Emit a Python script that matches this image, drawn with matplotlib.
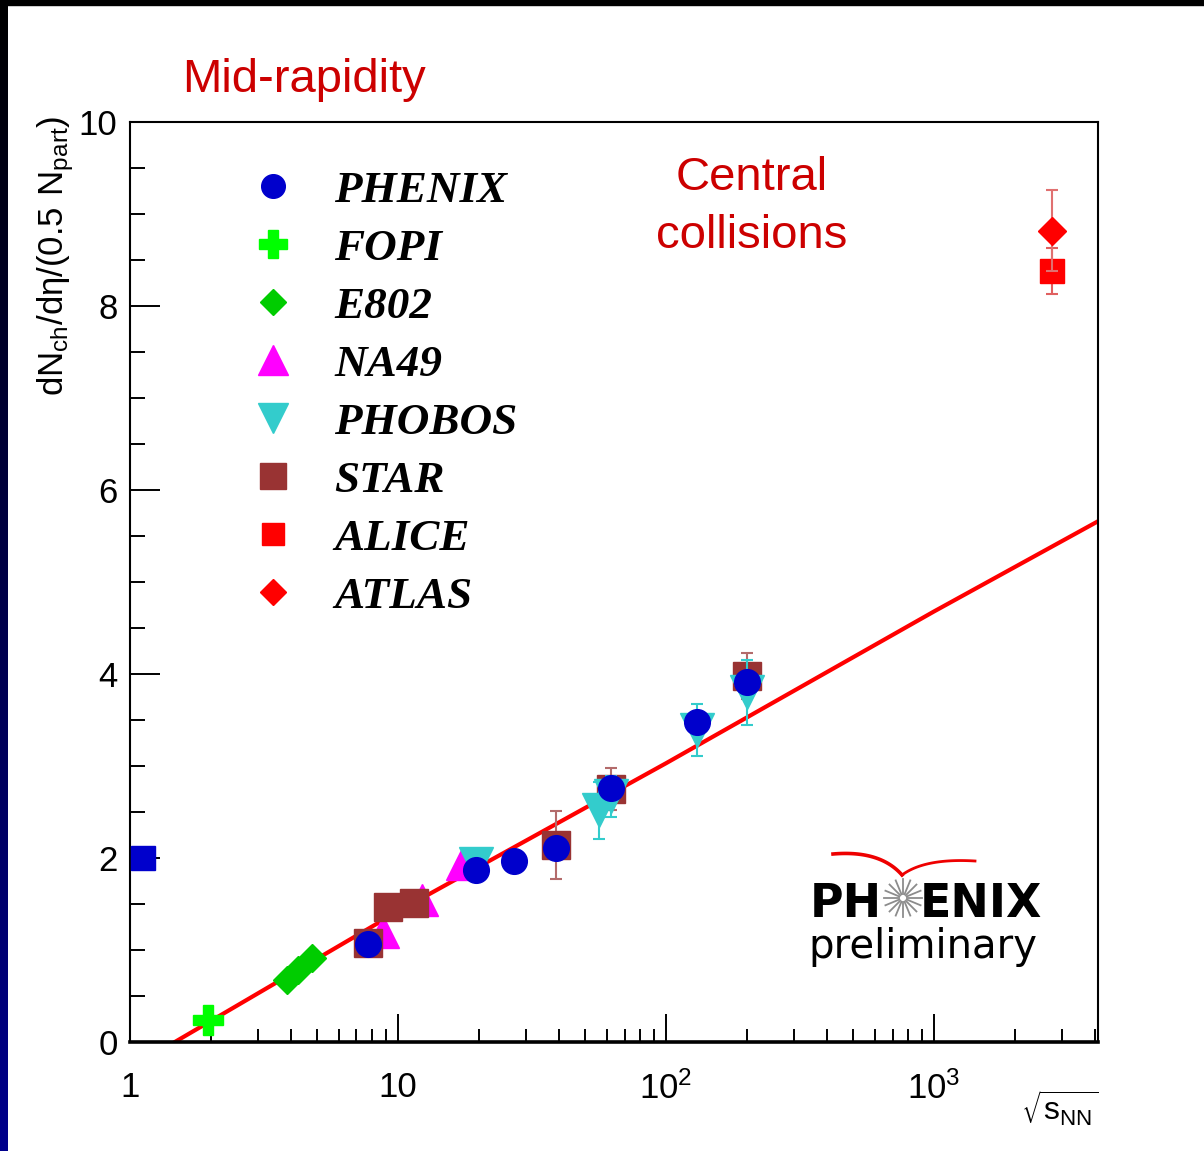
import numpy as np
import matplotlib
from matplotlib import pyplot as plt
from matplotlib.patches import Rectangle
from matplotlib.lines import Line2D

matplotlib.use('Agg')
plt.rcParams['font.family'] = ['Liberation Sans', 'DejaVu Sans']

# sqrt(s_NN) in GeV vs dNch/deta / (0.5 Npart), central collisions
phenix_x = [7.7, 19.6, 27, 39, 62.4, 130, 200]
phenix_y = [1.07, 1.87, 1.97, 2.11, 2.76, 3.48, 3.91]

fopi_x = [1.95]
fopi_y = [0.24]

e802_x = [3.85, 4.25, 4.77]
e802_y = [0.67, 0.78, 0.91]

na49_x = [8.8, 12.3, 17.3]
na49_y = [1.20, 1.54, 1.93]

phobos_x = [19.6, 56, 62.4, 130, 200]
phobos_y = [1.93, 2.52, 2.67, 3.39, 3.80]
phobos_err = [0.0, 0.31, 0.22, 0.28, 0.35]

star_x = [7.7, 9.2, 11.5, 39, 62.4, 200]
star_y = [1.08, 1.47, 1.51, 2.14, 2.75, 3.98]
star_err = [0.0, 0.0, 0.0, 0.37, 0.23, 0.25]

alice_x = [2760]
alice_y = [8.38]
alice_err = [0.25]

atlas_x = [2760]
atlas_y = [8.82]
atlas_err = [0.44]

# log fit through the data
fit_x = [1.47, 10, 100, 1000, 4090]
fit_y = [0.0, 1.42, 3.03, 4.68, 5.66]

# blue marker sitting on the y axis at 2
bullet_x = [1.118]
bullet_y = [2.0]

W, H = 1204, 1151
def fx(px):
    return px / W
def fy(py):
    return 1 - py / H

fig = plt.figure(figsize=(W / 100, H / 100), dpi=100)
fig.patch.set_facecolor('white')

# slide frame: black strip on top, dark gradient strip on the left
fig.add_artist(Rectangle((0, fy(5)), 1, 5 / H, transform=fig.transFigure,
                         color='black', zorder=10))
bar = fig.add_axes([0, 0, 8 / W, 1])
grad = np.zeros((256, 1, 3))
grad[:, 0, 2] = np.linspace(0.0, 0.55, 256)
bar.imshow(grad, aspect='auto')
bar.axis('off')

ax = fig.add_axes([fx(130), fy(1042), (1098 - 130) / W, (1042 - 122) / H])
ax.set_xscale('log')
ax.set_xlim(1, 4090)
ax.set_ylim(0, 10)

ax.plot(fit_x, fit_y, color='#ff0000', lw=3, zorder=2)

def series(x, y, marker, ms, color, z, err=None, ecolor=None):
    if err is not None:
        ax.errorbar(x, y, yerr=err, fmt='none', ecolor=ecolor, elinewidth=1.5,
                    capsize=4.5, capthick=1.5, zorder=z)
    line, = ax.plot(x, y, linestyle='none', marker=marker, ms=ms,
                    color=color, mec=color, zorder=z + 0.5)
    return line

h_fopi = series(fopi_x, fopi_y, 'P', 22, '#00ff00', 3)
h_e802 = series(e802_x, e802_y, 'D', 14, '#00cc00', 4)
h_na49 = series(na49_x, na49_y, '^', 23, '#ff00ff', 5)
h_star = series(star_x, star_y, 's', 20, '#993333', 6, star_err, '#b36b6b')
h_phobos = series(phobos_x, phobos_y, 'v', 24, '#33cccc', 7, phobos_err, '#33cccc')
h_phenix = series(phenix_x, phenix_y, 'o', 18.5, '#0000cc', 8)
h_alice = series(alice_x, alice_y, 's', 17, '#ff0000', 9, alice_err, '#e06060')
h_atlas = series(atlas_x, atlas_y, 'D', 14, '#ff0000', 10, atlas_err, '#e07070')
ax.plot(bullet_x, bullet_y, linestyle='none', marker='s', ms=17,
        color='#0000cc', zorder=11)

ax.set_xticks([1, 10, 100, 1000])
ax.set_xticklabels(['1', '10', r'$\mathregular{10^{2}}$', r'$\mathregular{10^{3}}$'])
ax.xaxis.set_minor_locator(matplotlib.ticker.LogLocator(base=10, subs=np.arange(2, 10)))
ax.xaxis.set_minor_formatter(matplotlib.ticker.NullFormatter())
ax.set_yticks(np.arange(0, 11, 2))
ax.yaxis.set_minor_locator(matplotlib.ticker.MultipleLocator(0.5))

ax.tick_params(axis='both', which='both', direction='in', top=False, right=False,
               width=1.4, labelsize=25, colors='black')
ax.tick_params(axis='y', which='major', length=21.5, pad=9)
ax.tick_params(axis='y', which='minor', length=11)
ax.tick_params(axis='x', which='major', length=20, pad=21)
ax.tick_params(axis='x', which='minor', length=9.5)
for s in ['left', 'top', 'right']:
    ax.spines[s].set_linewidth(1.5)
ax.spines['bottom'].set_linewidth(2.6)

fig.text(fx(56), fy(116), r'$\mathregular{dN_{ch}/d\eta/(0.5\ N_{part})}$',
         rotation=90, ha='center', va='top', fontsize=25)
fig.text(fx(1099), fy(1108), r'$\sqrt{\mathregular{s_{NN}}}$',
         ha='right', va='center', fontsize=23)

leg = ax.legend([h_phenix, h_fopi, h_e802, h_na49, h_phobos, h_star, h_alice, h_atlas],
                ['PHENIX', 'FOPI', 'E802', 'NA49', 'PHOBOS', 'STAR', 'ALICE', 'ATLAS'],
                loc='upper left', bbox_to_anchor=(0.127, 0.9475), frameon=False,
                prop={'family': 'Liberation Serif', 'weight': 'bold',
                      'style': 'italic', 'size': 32.5},
                handlelength=0.9, handletextpad=0.9, labelspacing=0.385,
                borderpad=0, borderaxespad=0, numpoints=1, markerscale=0.92)

red = '#cc0000'
fig.text(fx(182), fy(92), 'Mid-rapidity', color=red, fontsize=34, va='baseline')
fig.text(fx(752), fy(190), 'Central', color=red, fontsize=34, ha='center', va='baseline')
fig.text(fx(752), fy(248), 'collisions', color=red, fontsize=34, ha='center', va='baseline')

# PHENIX logo
fig.text(fx(810), fy(917), 'PH', fontsize=33, fontweight='bold',
         family='DejaVu Sans', va='baseline')
fig.text(fx(920), fy(917), 'ENIX', fontsize=33, fontweight='bold',
         family='DejaVu Sans', va='baseline')
fig.text(fx(808), fy(958), 'preliminary', fontsize=29,
         family='DejaVu Sans', va='baseline')
cx, cy = 903, 898
for a in np.linspace(0, 2 * np.pi, 16, endpoint=False):
    fig.add_artist(Line2D([fx(cx + 4 * np.cos(a)), fx(cx + 19 * np.cos(a))],
                          [fy(cy + 4 * np.sin(a)), fy(cy + 19 * np.sin(a))],
                          color='#8c8c8c', lw=1.3, transform=fig.transFigure))
t = np.linspace(0, 1, 40)
def bez(p0, p1, p2):
    bx = (1 - t) ** 2 * p0[0] + 2 * (1 - t) * t * p1[0] + t ** 2 * p2[0]
    by = (1 - t) ** 2 * p0[1] + 2 * (1 - t) * t * p1[1] + t ** 2 * p2[1]
    return fx(bx), fy(by)
lx, ly = bez((833, 854), (880, 850), (902, 875))
rx, ry = bez((902, 875), (925, 858), (975, 861))
fig.add_artist(Line2D(lx, ly, color='#ee0000', lw=2.6, transform=fig.transFigure))
fig.add_artist(Line2D(rx, ry, color='#ee0000', lw=2.0, transform=fig.transFigure))

fig.savefig('out.png', dpi=100)
